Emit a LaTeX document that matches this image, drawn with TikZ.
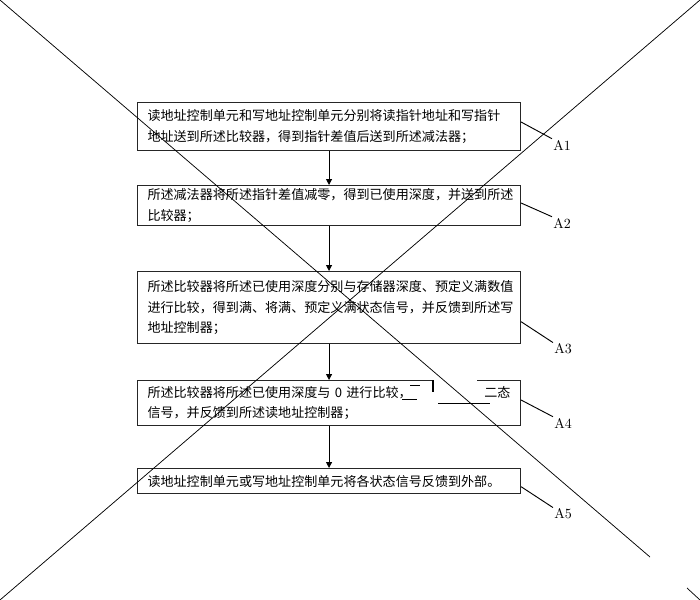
\documentclass[tikz,border=0pt]{standalone}
\usepackage{fontspec}
\newfontfamily\cjk{Noto Sans CJK SC}
\usetikzlibrary{arrows.meta}

\tikzset{
  stepbox/.style={draw=black!85, line width=0.8pt, anchor=north west, inner xsep=7.5pt, inner ysep=0pt,
    text width=272.25pt, minimum height=#1, align=left, font=\cjk\fontsize{9.8pt}{15.5pt}\selectfont},
  flow/.style={line width=0.7pt, -{Triangle[length=4.5pt,width=4.5pt]}},
  tag/.style={inner sep=0.75pt, font=\fontsize{10.5pt}{12pt}\selectfont},
  tagline/.style={line width=0.7pt},
  cross/.style={line width=0.55pt}
}

\begin{document}
\begin{tikzpicture}[x=0.75pt,y=0.75pt,yscale=-1,xscale=1]
    \useasboundingbox (0,0) rectangle (700,600);
    %Shape: Boxes
    \node [stepbox=36pt] (b1) at (137,102) {读地址控制单元和写地址控制单元分别将读指针地址和写指针\\地址送到所述比较器，得到指针差值后送到所述减法器；};
    \node [stepbox=30pt] (b2) at (137,185) {所述减法器将所述指针差值减零，得到已使用深度，并送到所述\\比较器；};
    \node [stepbox=54pt] (b3) at (137,271) {所述比较器将所述已使用深度分别与存储器深度、预定义满数值\\进行比较，得到满、将满、预定义满状态信号，并反馈到所述写\\地址控制器；};
    \node [stepbox=33.75pt] (b4) at (137,380) {所述比较器将所述已使用深度与 0 进行比较，\hfill 二态\\信号，并反馈到所述读地址控制器；};
    \node [stepbox=18.75pt] (b5) at (137,468) {读地址控制单元或写地址控制单元将各状态信号反馈到外部。};

    %Straight Lines: flow
    \draw [flow] (b1) -- (b2);
    \draw [flow] (b2) -- (b3);
    \draw [flow] (b3) -- (b4);
    \draw [flow] (b4) -- (b5);

    % Text Node: step tags
    \node [tag] (a1) at (562,145) {A1};
    \node [tag] (a2) at (562,223) {A2};
    \node [tag] (a3) at (563,349) {A3};
    \node [tag] (a4) at (563,423) {A4};
    \node [tag] (a5) at (563,514) {A5};
    \draw [tagline] ([yshift=15pt]b1.north east) -- (a1.north west);
    \draw [tagline] ([yshift=13.5pt]b2.north east) -- (a2.north west);
    \draw [tagline] ([yshift=38pt]b3.north east) -- (a3.north west);
    \draw [tagline] ([yshift=15pt]b4.north east) -- (a4.north west);
    \draw [tagline] ([yshift=14pt]b5.north east) -- (a5.north west);

    %Shape: blotted part of box 4
    \fill [white] (433.5,377) rectangle (477,383);
    \draw [line width=0.8pt] (433,380) -- (433,392);
    \draw [line width=0.7pt] (410,385) -- (420,385);
    \draw [line width=0.7pt] (402,399) -- (417,399);
    \draw [line width=0.7pt] (438,403) -- (490,403);

    %Straight Lines: cross
    \draw [cross] (0,0) -- (650,557);
    \draw [cross] (687,588) -- (700,600);
    \draw [cross] (700,0) -- (0,600);
\end{tikzpicture}
\end{document}
